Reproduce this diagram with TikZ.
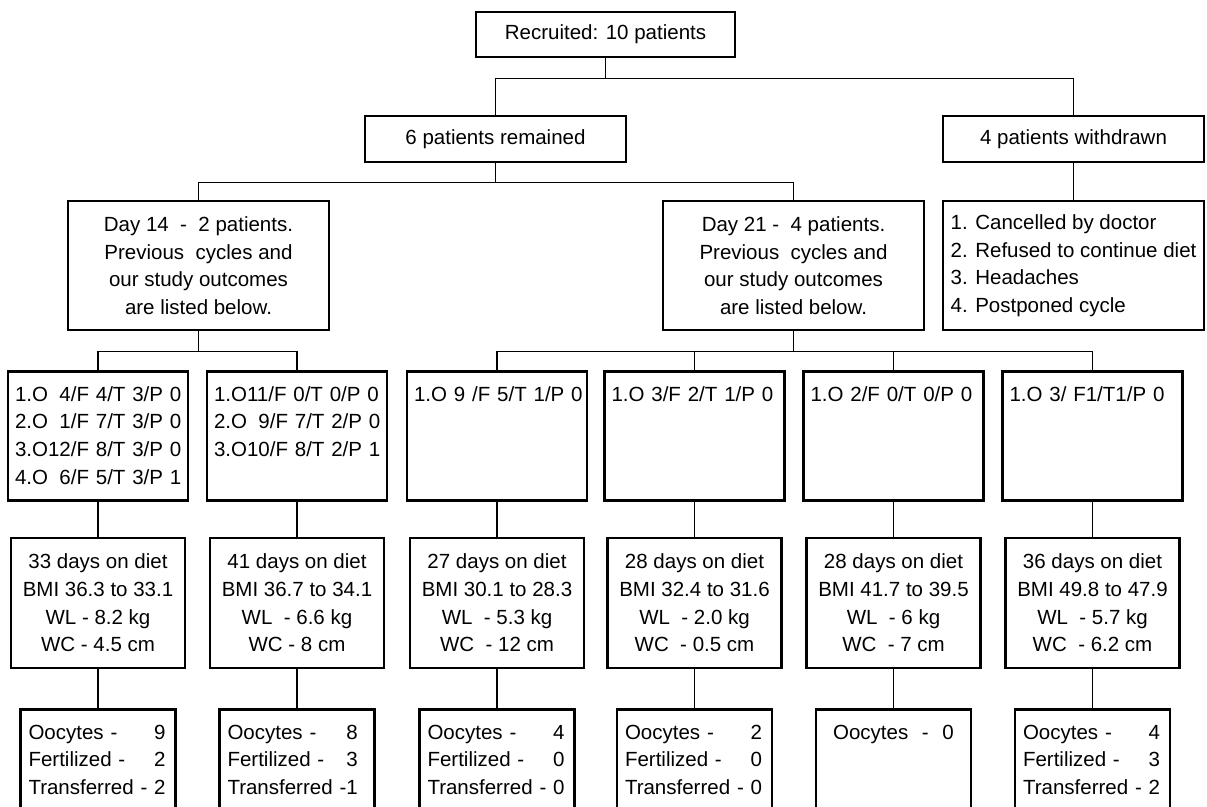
\documentclass[tikz,border=0pt]{standalone}
\usepackage{fontspec}
\setmainfont{Liberation Sans}
\usepackage{tikz}

\newcommand{\cyclines}[1]{\begin{tabular}[t]{@{}l@{}}#1\end{tabular}}
\newcommand{\outcomes}[3]{\begin{tabular}[t]{@{}l@{}r@{}}Oocytes - & #1\\ Fertilized - & #2\\ Transferred - & #3\end{tabular}}

\begin{document}
\begin{tikzpicture}[x=1pt,y=-1pt,
  box/.style={draw,line width=2.7pt,font=\fontsize{20.5}{27.6}\selectfont},
  link/.style={draw,line width=1.1pt},
  cycbox/.style={box,anchor=north,text width=166pt,align=left,inner xsep=7pt,inner ysep=0pt,text height=30pt,text depth=99pt},
  dietbox/.style={box,minimum width=174pt,minimum height=130pt,align=center},
  outbox/.style={box,anchor=north,text width=139pt,align=left,inner xsep=8pt,inner ysep=0pt,text height=30pt,text depth=130pt}]
  \clip (0,0) rectangle (1207,806);

  %top
  \node[box,minimum width=259pt,minimum height=45pt] (rec) at (605.5,34.5) {Recruited: 10 patients};
  \node[box,minimum width=261pt,minimum height=46pt] (remain) at (495.5,139) {6 patients remained};
  \node[box,minimum width=261pt,minimum height=46pt] (withdrawn) at (1073.5,139) {4 patients withdrawn};

  %groups
  \node[box,minimum width=261pt,minimum height=129pt,align=center] (day14) at (198.5,265.5) {Day 14 \ - \ 2 patients.\\Previous\ \ cycles and\\our study outcomes\\are listed below.};
  \node[box,minimum width=261pt,minimum height=129pt,align=center] (day21) at (793.5,265.5) {Day 21 - \ 4 patients.\\Previous\ \ cycles and\\our study outcomes\\are listed below.};
  \node[box,minimum width=261pt,minimum height=129pt,align=left] (reasons) at (1073.5,265.5) {1. Cancelled by doctor\\2. Refused to continue diet\\3. Headaches\\4. Postponed cycle};

  %cycles
  \node[cycbox] (cyc1) at (98,370) {\cyclines{1.O\phantom{1}4/F 4/T 3/P 0\\2.O\phantom{1}1/F 7/T 3/P 0\\3.O12/F 8/T 3/P 0\\4.O\phantom{1}6/F 5/T 3/P 1}};
  \node[cycbox] (cyc2) at (297,370) {\cyclines{1.O11/F 0/T 0/P 0\\2.O\phantom{1}9/F 7/T 2/P 0\\3.O10/F 8/T 2/P 1}};
  \node[cycbox] (cyc3) at (497,370) {\cyclines{1.O 9 /F 5/T 1/P 0}};
  \node[cycbox] (cyc4) at (694.5,370) {\cyclines{1.O 3/F 2/T 1/P 0}};
  \node[cycbox] (cyc5) at (893.5,370) {\cyclines{1.O 2/F 0/T 0/P 0}};
  \node[cycbox] (cyc6) at (1092.5,370) {\cyclines{1.O 3/ F1/T1/P 0}};

  %diet
  \node[dietbox] (diet1) at (98,603) {33 days on diet\\BMI 36.3 to 33.1\\WL - 8.2 kg\\WC - 4.5 cm};
  \node[dietbox] (diet2) at (297,603) {41 days on diet\\BMI 36.7 to 34.1\\WL\ \ - 6.6 kg\\WC - 8 cm};
  \node[dietbox] (diet3) at (497,603) {27 days on diet\\BMI 30.1 to 28.3\\WL\ \ - 5.3 kg\\WC\ \ - 12 cm};
  \node[dietbox] (diet4) at (694.5,603) {28 days on diet\\BMI 32.4 to 31.6\\WL\ \ - 2.0 kg\\WC\ \ - 0.5 cm};
  \node[dietbox] (diet5) at (893.5,603) {28 days on diet\\BMI 41.7 to 39.5\\WL\ \ - 6 kg\\WC\ \ - 7 cm};
  \node[dietbox] (diet6) at (1092.5,603) {36 days on diet\\BMI 49.8 to 47.9\\WL\ \ - 5.7 kg\\WC\ \ - 6.2 cm};

  %outcomes
  \node[outbox] (out1) at (98,708) {\outcomes{9}{2}{\ 2}};
  \node[outbox] (out2) at (297,708) {\outcomes{8}{3}{1}};
  \node[outbox] (out3) at (497,708) {\outcomes{4}{0}{\ 0}};
  \node[outbox] (out4) at (694.5,708) {\outcomes{2}{0}{\ 0}};
  \node[outbox,align=center] (out5) at (893.5,708) {Oocytes\ \ -\ \ 0};
  \node[outbox] (out6) at (1092.5,708) {\outcomes{4}{3}{\ 2}};

  %links
  \draw[link] (rec.south) -- ++(0,20) coordinate (top);
  \draw[link] (remain.north) |- (top) -| (withdrawn.north);
  \draw[link] (remain.south) -- ++(0,19) coordinate (mid);
  \draw[link] (day14.north) |- (mid) -| (day21.north);
  \draw[link] (withdrawn.south) -- (reasons.north);
  \draw[link] (day14.south) -- ++(0,20) coordinate (left);
  \draw[link] (cyc1.north) |- (left) -| (cyc2.north);
  \draw[link] (day21.south) -- ++(0,20) coordinate (right);
  \draw[link] (cyc3.north) |- (right) -| (cyc6.north);
  \draw[link] (cyc4.north) -- (cyc4.north |- right);
  \draw[link] (cyc5.north) -- (cyc5.north |- right);
  \foreach \i in {1,...,6}{
    \draw[link] (cyc\i.south) -- (diet\i.north);
    \draw[link] (diet\i.south) -- (out\i.north);
  }
\end{tikzpicture}
\end{document}
